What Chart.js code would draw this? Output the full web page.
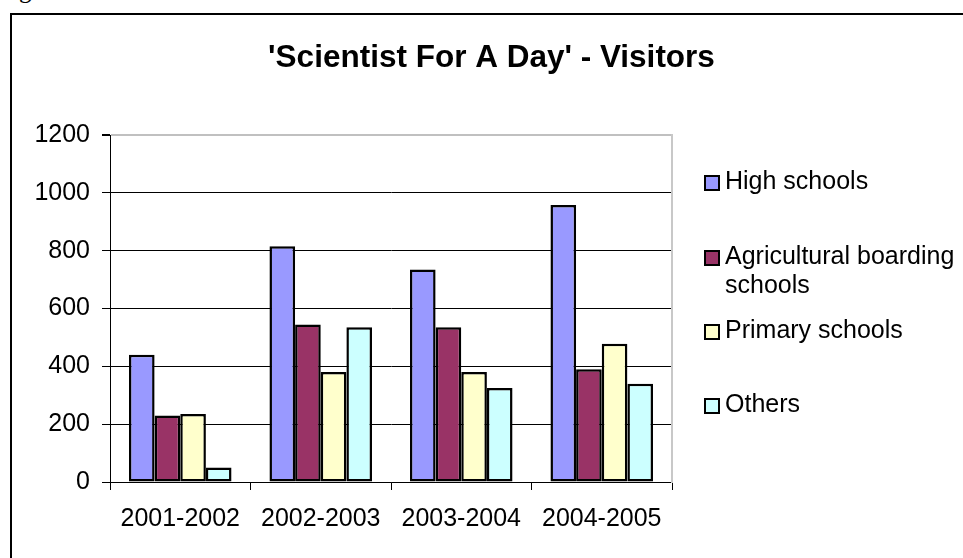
<!DOCTYPE html>
<html>
<head>
<meta charset="utf-8">
<title>'Scientist For A Day' - Visitors</title>
<script src="https://cdn.jsdelivr.net/npm/chart.js"></script>
<style>
    html, body { margin: 0; padding: 0; background: #fff; }
    body { width: 963px; height: 558px; overflow: hidden; position: relative; font-family: 'Liberation Sans', Arial, sans-serif; }
    .cut { position: absolute; left: 19px; top: -23px; font: 25px/25px 'Liberation Serif', 'Times New Roman', serif; color: #000; }
    .frame { position: absolute; left: 10px; top: 13px; width: 1000px; height: 600px; border-left: 2px solid #000; border-top: 2px solid #000; }
    .chart-box { position: absolute; left: 0; top: 0; width: 959px; height: 543px; }
    .legend { position: absolute; left: 0; top: 0; }
    .legend-item { position: absolute; left: 704px; font-size: 25px; line-height: 29px; color: #000; white-space: nowrap; }
    .legend-item .swatch { position: absolute; left: 0; top: 9px; width: 16px; height: 16px; box-sizing: border-box; border: 2px solid #000; }
    .legend-item .label { position: absolute; left: 21px; top: 0; }
</style>
</head>
<body>
    <div class="cut">g</div>
    <div class="frame">
        <div class="chart-box"><canvas id="visitorsChart" width="959" height="543"></canvas></div>
    </div>
    <div class="legend" id="legend"></div>

<script>
    // Data
    const categories = ['2001-2002', '2002-2003', '2003-2004', '2004-2005'];
    const highSchools = [440, 815, 735, 958];
    const agriculturalSchools = [230, 545, 535, 390];
    const primarySchools = [235, 380, 380, 478];
    const others = [50, 535, 325, 340];
    const seriesNames = ['High schools', ['Agricultural boarding', 'schools'], 'Primary schools', 'Others'];
    const yTicks = [0, 200, 400, 600, 800, 1000, 1200];

    const colors = ['#9999ff', '#993366', '#ffffcc', '#ccffff'];
    const legendTops = [166, 241, 315, 389]; // page y of each legend entry

    Chart.defaults.font.family = "'Liberation Sans', Arial, sans-serif";
    Chart.defaults.color = '#000';

    const seriesValues = [highSchools, agriculturalSchools, primarySchools, others];
    const datasets = seriesValues.map((vals, i) => ({
        label: Array.isArray(seriesNames[i]) ? seriesNames[i].join(' ') : seriesNames[i],
        data: vals,
        backgroundColor: colors[i],
        borderColor: '#000',
        borderWidth: 2.5,
        borderSkipped: false,
        categoryPercentage: 0.73,
        barPercentage: 1.0,
        yAxisID: 'y'
    }));

    const ctx = document.getElementById('visitorsChart').getContext('2d');
    const chart = new Chart(ctx, {
        type: 'bar',
        data: { labels: categories, datasets: datasets },
        options: {
            responsive: false,
            animation: false,
            layout: { padding: 0 },
            plugins: {
                legend: { display: false },
                tooltip: { enabled: false },
                title: {
                    display: true,
                    text: "'Scientist For A Day' - Visitors",
                    color: '#000',
                    font: { size: 31.5, weight: 'bold', lineHeight: 1.2 },
                    padding: { top: 24, bottom: 58.2 }
                }
            },
            scales: {
                x: {
                    grid: { drawOnChartArea: false, drawTicks: true, tickLength: 8, color: '#000', lineWidth: 1 },
                    border: { display: true, color: '#000', width: 1 },
                    ticks: { font: { size: 25 }, padding: 14, maxRotation: 0, color: '#000' },
                    afterFit: s => { s.height = 76; }
                },
                y: {
                    min: 0,
                    max: 1200,
                    afterBuildTicks: s => { s.ticks = yTicks.map(v => ({ value: v })); },
                    grid: {
                        color: c => (c.tick && c.tick.value === 1200 ? '#c0c0c0' : '#000'),
                        tickColor: '#000',
                        lineWidth: c => (c.tick && c.tick.value === 1200 ? 2 : 1),
                        tickLength: 8
                    },
                    border: { display: true, color: '#000', width: 1 },
                    ticks: { font: { size: 25 }, padding: 12, color: '#000', callback: v => String(v) },
                    afterFit: s => { s.width = 98; }
                },
                yRight: {
                    type: 'linear',
                    position: 'right',
                    display: true,
                    grid: { display: false },
                    ticks: { display: false },
                    border: { display: true, color: '#c8c8c8', width: 2 },
                    afterFit: s => { s.width = 299; }
                }
            }
        }
    });

    // HTML legend built from the series arrays
    const legend = document.getElementById('legend');
    seriesNames.forEach((name, i) => {
        const item = document.createElement('div');
        item.className = 'legend-item';
        item.style.top = legendTops[i] + 'px';
        const sw = document.createElement('span');
        sw.className = 'swatch';
        sw.style.background = colors[i];
        const lb = document.createElement('span');
        lb.className = 'label';
        lb.innerHTML = Array.isArray(name) ? name.join('<br>') : name;
        item.appendChild(sw);
        item.appendChild(lb);
        legend.appendChild(item);
    });
</script>
</body>
</html>
